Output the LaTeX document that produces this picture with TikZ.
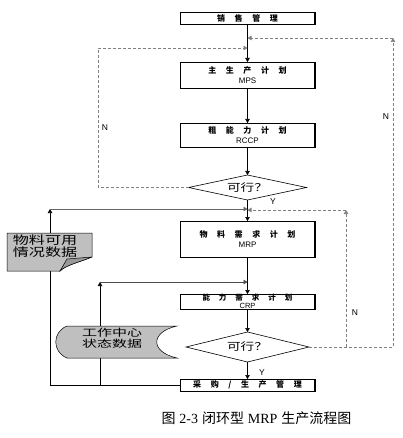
\documentclass[tikz,border=0pt]{standalone}
\usepackage{fontspec}
\setmainfont{Liberation Sans}
\newfontfamily\cjk{Noto Sans CJK SC}
\newfontfamily\capfont{Liberation Serif}
\usetikzlibrary{positioning}
\usetikzlibrary{shapes.geometric, arrows.meta}
\newcommand\cgap{\hspace{1.2em}}
\tikzset{
	x=1pt, y=-1pt,
	every node/.style={outer sep=0pt},
	stage/.style = {rectangle, draw, line width=0.6pt, minimum width=135pt, inner sep=0pt, align=center, font=\fontsize{8}{10.5}\selectfont},
	check/.style = {diamond, draw, line width=0.6pt, inner sep=0pt, aspect=4.7, font=\cjk\fontsize{10.5}{10.5}\selectfont},
	flow/.style = {-{Triangle[length=4pt,width=4.5pt]}, line width=0.6pt},
	loopback/.style = {flow, dash pattern=on 3pt off 2pt, gray},
	el/.style = {inner sep=0pt, font=\fontsize{8.5}{8.5}\selectfont},
	datafill/.style = {draw, line width=0.5pt, fill=black!25}
}

\begin{document}
\begin{tikzpicture}
	\useasboundingbox (0,0) rectangle (403,438);
	% Main column
	\node (sales) [stage, minimum height=12pt] at (247.5,18) {{\cjk\bfseries 销\cgap 售\cgap 管\cgap 理}};
	\node (mps) [stage, minimum height=26pt, below=38pt of sales] {{\cjk\bfseries 主\cgap 生\cgap 产\cgap 计\cgap 划}\\MPS};
	\node (rccp) [stage, minimum height=24pt, below=35pt of mps] {{\cjk\bfseries 粗\cgap 能\cgap 力\cgap 计\cgap 划}\\RCCP};
	\node (chk1) [check, minimum width=118pt, minimum height=25pt, below=28pt of rccp] {\scalebox{1.3}[1]{可行？}};
	\node (mrp) [stage, minimum height=36pt, below=21pt of chk1] {{\cjk\bfseries 物\cgap 料\cgap 需\cgap 求\cgap 计\cgap 划}\\MRP};
	\node (crp) [stage, minimum height=15pt, below=37pt of mrp, font=\fontsize{7.5}{7.5}\selectfont] {{\cjk\bfseries 能\cgap 力\cgap 需\cgap 求\cgap 计\cgap 划}\\CRP};
	\node (chk2) [check, minimum width=123pt, minimum height=30pt, below=23pt of crp] {\scalebox{1.3}[1]{可行？}};
	\node (buy) [stage, minimum height=12pt, below=17pt of chk2] {{\cjk\bfseries 采\cgap 购\cgap /\cgap 生\cgap 产\cgap 管\cgap 理}};
	\foreach \n in {sales,mps,rccp,mrp,crp,buy}
		\draw[line width=1.6pt] (\n.north east) -- (\n.south east);

	% Forward flow
	\path[flow] (sales) edge (mps) (mps) edge (rccp) (rccp) edge (chk1)
		(chk1) edge (mrp) (mrp) edge (crp) (crp) edge (chk2) (chk2) edge (buy);

	% Loops back
	\coordinate (n1a) at (98,187.5);
	\coordinate (n1b) at (247.5,48);
	\draw[loopback] (chk1.west) -- (n1a) |- (n1b);
	\coordinate (r1) at (393,347);
	\coordinate (r2) at (393,38);
	\coordinate (r3) at (247.5,38);
	\coordinate (b1) at (346,347);
	\coordinate (b2) at (346,210);
	\coordinate (b3) at (247.5,210);
	\draw[loopback] (chk2.east) -- (r1) -- (r2);
	\draw[loopback] (r2) -- (r3);
	\draw[loopback] (b1) -- (b2);
	\draw[loopback] (b2) -- (b3);
	\coordinate (a2) at (50,209);
	\coordinate (a3) at (247.5,209);
	\coordinate (c1) at (100,385);
	\coordinate (c2) at (100,282);
	\coordinate (c3) at (247.5,282);
	\draw[flow] (buy.west) -| (a2);
	\draw[flow, black!60] (a2) -- (a3);
	\draw[flow] (c1) -- (c2);
	\draw[flow, black!70] (c2) -- (c3);

	% Labels
	\node (nl) [el] at (105,128) {N};
	\node (nr) [el] at (386,117) {N};
	\node (nm) [el] at (355,313) {N};
	\node (y1) [el] at (273,202) {Y};
	\node (y2) [el] at (262,373) {Y};

	% Data stores
	\filldraw[datafill] (7,233) -- (92,233) -- (92,257) .. controls (80,262) and (66,265) .. (60,271) -- (7,271) -- cycle;
	\filldraw[datafill, fill=black!40] (92,257) -- (67,259) -- (60,271) .. controls (66,265) and (80,262) .. (92,257);
	\node (avail) [align=left, inner sep=0pt, font=\cjk\fontsize{11.5}{12.5}\selectfont] at (45,246)
		{\scalebox{1.4}[1]{物料可用}\\\scalebox{1.4}[1]{情况数据}};
	\filldraw[datafill] (67,326) -- (177,326) .. controls (150,332) and (150,352) .. (177,358)
		-- (67,358) .. controls (52,352) and (52,332) .. (67,326) -- cycle;
	\node (wcs) [align=center, inner sep=0pt, font=\cjk\fontsize{10}{11.5}\selectfont] at (112,338)
		{\scalebox{1.5}[1]{工作中心}\\\scalebox{1.5}[1]{状态数据}};

	% Title
	\node (title) at (256.5,418) {\fontsize{14}{14}\selectfont{\cjk 图} {\capfont 2-3} {\cjk 闭环型} {\capfont MRP} {\cjk 生产流程图}};
\end{tikzpicture}
\end{document}
